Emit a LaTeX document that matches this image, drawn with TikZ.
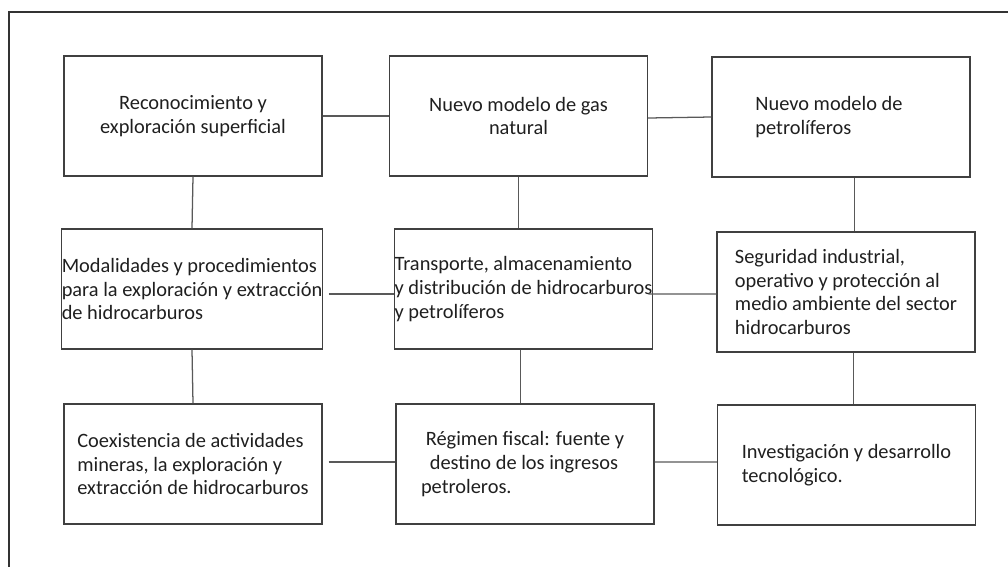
\documentclass[tikz,border=0pt]{standalone}
\usepackage{fontspec}
\setmainfont{Carlito}
\usepackage{tikz}
\usepackage{xcolor}

\begin{document}
\begin{tikzpicture}[x=0.025cm,y=-0.025cm,
    caja/.style={draw=black!75,line width=0.9pt,minimum width=6.45cm,minimum height=3cm,inner sep=0pt,
      text=black!88,font=\fontsize{14.5pt}{17pt}\selectfont},
    enlace/.style={draw=black!65,line width=0.9pt}]
      \useasboundingbox (0,0) rectangle (1008,567);
      \draw [black!80,line width=1pt] (1008,12) -- (9,12) -- (9,567);
      % fila 1
      \node [caja,align=center] (recon) at (193,116) {Reconocimiento y\\exploración superficial};
      \node [caja,align=center] (gas) at (518.5,116) {Nuevo modelo de gas\\natural};
      \node [caja,align=left] (petrol) at (841,117) {Nuevo modelo de\hspace*{0.6cm}\\petrolíferos};
      % fila 2
      \node [caja,align=left] (modal) at (192,289) {Modalidades y procedimientos\\para la exploración y extracción\\de hidrocarburos};
      \node [caja,align=left] (transp) at (523.5,289) {Transporte, almacenamiento\\y distribución de hidrocarburos\\y petrolíferos};
      \node [caja,align=left] (segur) at (846,292) {Seguridad industrial,\\operativo y protección al\\medio ambiente del sector\\hidrocarburos};
      % fila 3
      \node [caja,align=left] (coex) at (193,464) {Coexistencia de actividades\\mineras, la exploración y\\extracción de hidrocarburos};
      \node [caja,align=left] (fiscal) at (525,464) {Régimen fiscal: fuente y\\\hspace*{0.1cm}destino de los ingresos\\\hspace*{-0.12cm}petroleros.};
      \node [caja,align=left] (invest) at (846.5,465) {Investigación y desarrollo\\tecnológico.};
      % conexiones horizontales
      \draw [enlace] (recon.east) -- (gas.west);
      \draw [enlace] ([yshift=-0.05cm]gas.east) -- (petrol.west);
      \draw [enlace] ([shift={(0.15cm,-0.125cm)}]modal.east) -- ([yshift=-0.125cm]transp.west);
      \draw [enlace] ([shift={(-0.12cm,-0.125cm)}]transp.east) -- ([yshift=-0.05cm]segur.west);
      \draw [enlace] ([shift={(0.15cm,0.05cm)}]coex.east) -- ([yshift=0.05cm]fiscal.west);
      \draw [enlace] ([yshift=0.05cm]fiscal.east) -- ([yshift=0.075cm]invest.west);
      % conexiones verticales
      \draw [enlace] (recon.south) -- (modal.north);
      \draw [enlace] (gas.south) -- (gas.south |- transp.north);
      \draw [enlace] ([xshift=0.34cm]petrol.south) -- ([xshift=0.34cm]petrol.south |- segur.north);
      \draw [enlace] (modal.south) -- (coex.north);
      \draw [enlace] ([xshift=-0.08cm]transp.south) -- ([xshift=-0.08cm]transp.south |- fiscal.north);
      \draw [enlace] ([xshift=0.18cm]segur.south) -- ([xshift=0.18cm]segur.south |- invest.north);
\end{tikzpicture}
\end{document}
